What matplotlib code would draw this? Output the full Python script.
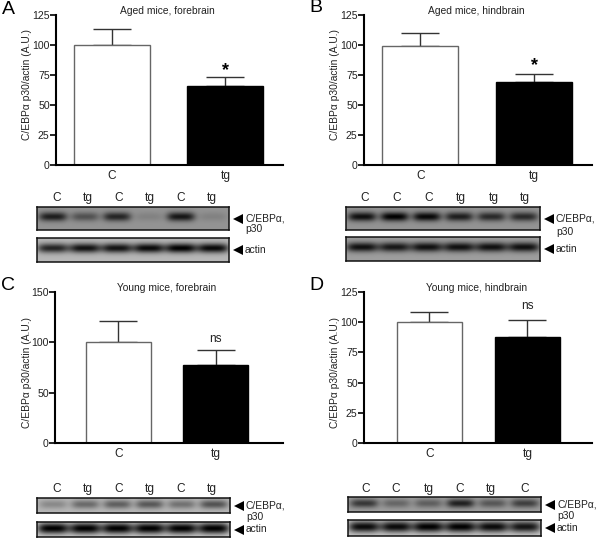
import numpy as np
import matplotlib
matplotlib.use('Agg')
import matplotlib.pyplot as plt

plt.rcParams['font.family'] = ['Liberation Sans', 'DejaVu Sans']

W, H = 600, 542

# bar values
groups = ['C', 'tg']
a_vals = [100, 66]
a_errs = [13, 7]
b_vals = [99.5, 69]
b_errs = [10.5, 7]
c_vals = [100, 77]
c_errs = [21, 15]
d_vals = [100, 88]
d_errs = [8.5, 14]

a_ticks = [0, 25, 50, 75, 100, 125]
c_ticks = [0, 50, 100, 150]

# lane labels and band strength for the blots
a_lanes = ['C', 'tg', 'C', 'tg', 'C', 'tg']
b_lanes = ['C', 'C', 'C', 'tg', 'tg', 'tg']
c_lanes = ['C', 'tg', 'C', 'tg', 'C', 'tg']
d_lanes = ['C', 'C', 'tg', 'C', 'tg', 'C']
a_p30 = [0.8, 0.45, 0.75, 0.12, 0.85, 0.12]
a_actin = [0.8, 0.9, 0.9, 0.95, 1.0, 0.95]
b_p30 = [0.9, 1.0, 0.95, 0.8, 0.72, 0.72]
b_actin = [0.9, 0.85, 0.9, 0.9, 0.9, 0.9]
c_p30 = [0.25, 0.42, 0.48, 0.52, 0.38, 0.55]
c_actin = [1.0, 1.0, 1.0, 1.0, 1.0, 1.0]
d_p30 = [0.65, 0.35, 0.4, 0.8, 0.45, 0.6]
d_actin = [0.95, 0.95, 1.0, 1.0, 0.95, 0.9]


def px_axes(x0, y0, x1, y1):
    return fig.add_axes([x0 / W, 1 - y1 / H, (x1 - x0) / W, (y1 - y0) / H])


def px_text(x, y, s, **kw):
    kw.setdefault('fontsize', 7.4)
    kw.setdefault('color', '#222222')
    kw.setdefault('va', 'center')
    fig.text(x / W, 1 - y / H, s, **kw)


def bar_panel(box, xlim, vals, errs, ticks, top, title, title_x, title_y, ylab_x, ylab_y, mark, mark_y):
    ax = px_axes(*box)
    ax.bar([0, 1], vals, width=0.67, color=['white', 'black'], edgecolor=['#666666', 'black'],
           linewidth=1.0, zorder=2)
    for i in range(2):
        ax.errorbar(i, vals[i], yerr=[[0], [errs[i]]], color='#333333', elinewidth=1.0, capsize=14,
                    capthick=1.0, zorder=1)
    ax.set_xlim(*xlim)
    ax.set_ylim(0, top)
    ax.set_yticks(ticks)
    ax.set_xticks([0, 1])
    ax.set_xticklabels(groups)
    ax.tick_params(axis='x', length=0, labelsize=8.6, pad=3.5, labelcolor='#222222')
    ax.tick_params(axis='y', length=4, width=1.2, labelsize=7.6, pad=0.5, labelcolor='#222222')
    for s in ['top', 'right']:
        ax.spines[s].set_visible(False)
    for s in ['left', 'bottom']:
        ax.spines[s].set_linewidth(1.5)
    px_text(title_x, title_y, title, ha='center')
    px_text(ylab_x, ylab_y, 'C/EBP\u03b1 p30/actin (A.U.)', rotation=90, ha='center')
    ax.text(1, vals[1] + errs[1] + mark_y, mark, ha='center', va='center',
            fontsize=13 if mark == '*' else 8.6, color='black' if mark == '*' else '#222222',
            fontweight='bold' if mark == '*' else 'normal')
    return ax


def blot(box, strengths, bg, spread, band_w):
    x0, y0, x1, y1 = box
    ax = px_axes(*box)
    w = (x1 - x0) * 3
    h = (y1 - y0) * 3
    xx, yy = np.meshgrid(np.linspace(0, 6, w), np.linspace(0, 1, h))
    img = np.full((h, w), bg, dtype=float)
    for i, st in enumerate(strengths):
        img -= st * bg * np.exp(-((xx - i - 0.5) / band_w) ** 4) * np.exp(-((yy - 0.42) / spread) ** 2)
    ax.imshow(np.clip(img, 0, 1), cmap='gray', vmin=0, vmax=1, aspect='auto',
              interpolation='bilinear')
    ax.set_xticks([])
    ax.set_yticks([])
    for s in ax.spines.values():
        s.set_linewidth(1.1)
        s.set_color('#111111')


def blot_group(lanes, lane_x, lane_y, p30, p30_box, actin, actin_box, bg, actin_bg, p30_spread, actin_spread, two_line_y):
    for x, s in zip(lane_x, lanes):
        px_text(x, lane_y, s, ha='center', fontsize=8.6)
    blot(p30_box, p30, bg, p30_spread, 0.44)
    blot(actin_box, actin, actin_bg, actin_spread, 0.49)
    ax_x = p30_box[2] + 9
    top_y = (p30_box[1] + p30_box[3]) / 2
    act_y = (actin_box[1] + actin_box[3]) / 2
    fig.add_artist(plt.Line2D([ax_x / W], [1 - top_y / H], marker='<', color='black', ms=6.5, mew=0))
    fig.add_artist(plt.Line2D([ax_x / W], [1 - act_y / H], marker='<', color='black', ms=6.5, mew=0))
    px_text(ax_x + 7, top_y, 'C/EBP\u03b1,', ha='left')
    px_text(ax_x + 7, two_line_y, 'p30', ha='left')
    px_text(ax_x + 7, act_y, 'actin', ha='left')


fig = plt.figure(figsize=(W / 100, H / 100), dpi=100)

bar_panel((56, 15, 283, 165), (-0.493, 1.507), a_vals, a_errs, a_ticks, 125,
          'Aged mice, forebrain', 167, 11, 27, 85, '*', 6)
bar_panel((364, 15, 592, 165), (-0.493, 1.507), b_vals, b_errs, a_ticks, 125,
          'Aged mice, hindbrain', 476, 11, 335, 85, '*', 7)
bar_panel((55, 292, 283, 443), (-0.65, 1.69), c_vals, c_errs, c_ticks, 150,
          'Young mice, forebrain', 167, 288, 27, 373, 'ns', 11)
bar_panel((364, 292, 592, 443), (-0.668, 1.66), d_vals, d_errs, a_ticks, 125,
          'Young mice, hindbrain', 477, 288, 335, 373, 'ns', 11)

for x, y, s in [(8, 9, 'A'), (316, 8, 'B'), (8, 285, 'C'), (316, 285, 'D')]:
    px_text(x, y, s, fontsize=14, ha='center', color='black')

blot_group(a_lanes, [57, 88, 119, 150, 181, 212], 198, a_p30, (37, 207, 229, 230),
           a_actin, (37, 238, 229, 262), 0.58, 0.72, 0.2, 0.2, 229)
blot_group(b_lanes, [365, 397, 429, 461, 494, 525], 198, b_p30, (346, 207, 540, 230),
           b_actin, (346, 237, 540, 261), 0.58, 0.62, 0.2, 0.2, 232)
blot_group(c_lanes, [57, 88, 119, 150, 181, 212], 489, c_p30, (37, 498, 230, 513),
           c_actin, (37, 522, 230, 537), 0.72, 0.82, 0.3, 0.38, 517)
blot_group(d_lanes, [366, 396, 429, 460, 491, 525], 489, d_p30, (348, 497, 541, 512),
           d_actin, (348, 520, 541, 536), 0.62, 0.8, 0.3, 0.36, 516)

fig.savefig('out.png', dpi=100)
